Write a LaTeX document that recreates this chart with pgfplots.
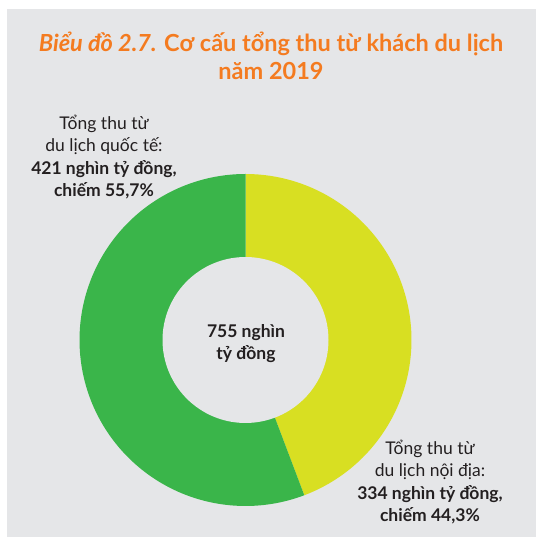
\documentclass[border=0pt]{standalone}
\usepackage{fontspec}
\setmainfont{Lato}
\usepackage{pgfplots}
\pgfplotsset{compat=1.18}
\definecolor{bggray}{HTML}{E5E6E8}
\definecolor{ttorange}{HTML}{F47B20}
\definecolor{cgreen}{HTML}{3AB54A}
\definecolor{cyellow}{HTML}{D8DF22}
\definecolor{txt}{HTML}{231F20}
% data: tong thu (nghin ty dong)
\def\noidia{334}
\def\quocte{421}
\pgfmathsetmacro{\total}{\noidia+\quocte}
\pgfmathsetmacro{\ystart}{90-\noidia/\total*360}
\pgfmathsetmacro{\gend}{90+\quocte/\total*360}
\begin{document}
\begin{tikzpicture}
\begin{axis}[
  width=536pt, height=537pt, scale only axis,
  xmin=0, xmax=536, ymin=0, ymax=537,
  hide axis, clip=false,
]
\coordinate (BL) at (axis cs:0,0);
\coordinate (TR) at (axis cs:536,537);
\fill[bggray] (axis cs:7,0) rectangle (axis cs:536,528);
\addplot[fill=cyellow, draw=none, domain=\ystart:90, samples=120, variable=\t]
  ({245.5+166*cos(\t)},{197+166*sin(\t)}) -- (axis cs:245.5,197) -- cycle;
\addplot[fill=cgreen, draw=none, domain=90:\gend, samples=140, variable=\t]
  ({245.5+166*cos(\t)},{197+166*sin(\t)}) -- (axis cs:245.5,197) -- cycle;
\addplot[fill=bggray, draw=none, domain=0:360, samples=120, variable=\t]
  ({245.5+83*cos(\t)},{197+83*sin(\t)}) -- cycle;
\node[align=center, text=ttorange, font=\fontsize{23.5}{28}\selectfont\bfseries]
  at (axis cs:271,481) {\textit{Biểu đồ 2.7.} Cơ cấu tổng thu từ khách du lịch\\năm 2019};
\node[align=center, text=txt, font=\fontsize{17.5}{22.5}\selectfont]
  at (axis cs:104,380) {Tổng thu từ\\du lịch quốc tế:\\\textbf{421 nghìn tỷ đồng,}\\\textbf{chiếm 55,7\%}};
\node[align=center, text=txt, font=\fontsize{17.5}{22.5}\selectfont]
  at (axis cs:430,55) {Tổng thu từ\\du lịch nội địa:\\\textbf{334 nghìn tỷ đồng,}\\\textbf{chiếm 44,3\%}};
\node[align=center, text=txt, font=\fontsize{17.5}{22}\selectfont\bfseries]
  at (axis cs:246,193) {755 nghìn\\tỷ đồng};
\end{axis}
\pgfresetboundingbox
\path (BL) rectangle (TR);
\end{tikzpicture}
\end{document}
